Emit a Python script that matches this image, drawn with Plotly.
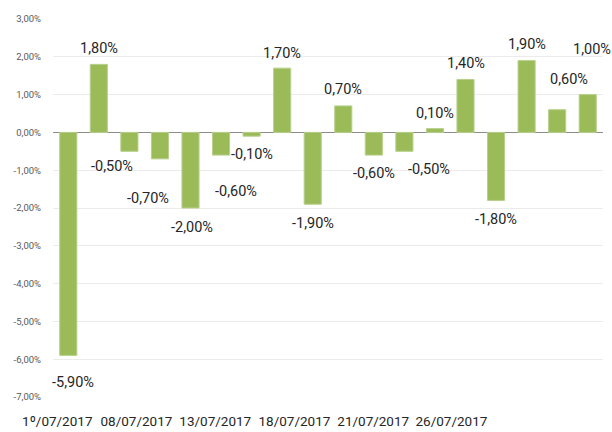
import plotly.graph_objects as go

values = [-5.9, 1.8, -0.5, -0.7, -2.0, -0.6, -0.1, 1.7, -1.9, 0.7,
          -0.6, -0.5, 0.1, 1.4, -1.8, 1.9, 0.6, 1.0]
x_tick_labels = ["1º/07/2017", "08/07/2017", "13/07/2017",
                 "18/07/2017", "21/07/2017", "26/07/2017"]
x_tick_pos = [-0.36, 2.23, 4.81, 7.40, 9.98, 12.54]
y_ticks = [3, 2, 1, 0, -1, -2, -3, -4, -5, -6, -7]

# per-label pixel offsets (style only)
label_dx = [5, 0, -17, -12, 1, 15, 0, 0, 0, 0, 0, 25, 0, 0, 0, 0, 12, 4]
label_dy = [-27, 16, -15, -40, -19, -36, -18, 15, -19, 16, -18, -18, 15, 16, -19, 16, 30, 45]

xs = list(range(len(values)))

fig = go.Figure()
fig.add_trace(go.Bar(
    x=xs, y=values,
    marker=dict(color="#9BBB59", line=dict(color="#B7D08A", width=1)),
    width=0.56,
    hoverinfo="skip",
))

for i, v in enumerate(values):
    fig.add_annotation(
        x=i, y=v, text=f"{v:.2f}".replace(".", ",") + "%",
        showarrow=False, xshift=label_dx[i], yshift=label_dy[i],
        xanchor="center", yanchor="middle",
        font=dict(family="Roboto", size=14.5, color="#262626"),
    )

fig.update_layout(
    width=612, height=432,
    margin=dict(l=53, r=9, t=19, b=35, autoexpand=False),
    paper_bgcolor="white", plot_bgcolor="white",
    showlegend=False,
    bargap=0.45,
)
fig.update_xaxes(
    range=[-0.5, len(values) - 0.5],
    tickmode="array", tickvals=x_tick_pos, ticktext=x_tick_labels,
    ticks="outside", ticklen=12, tickcolor="rgba(0,0,0,0)",
    showgrid=False, zeroline=False, showline=False, automargin=False,
    tickfont=dict(family="Roboto", size=13.5, color="#262626"),
)
fig.update_yaxes(
    range=[-7, 3],
    tickmode="array", tickvals=y_ticks,
    ticktext=[f"{t:.2f}".replace(".", ",") + "%" for t in y_ticks],
    ticks="outside", ticklen=9, tickcolor="rgba(0,0,0,0)",
    showgrid=True, gridcolor="#EBEBEB", gridwidth=1,
    zeroline=True, zerolinecolor="#8C8C8C", zerolinewidth=1,
    showline=False, automargin=False,
    tickfont=dict(family="Roboto", size=9.5, color="#595959"),
)

fig.write_html(
    "out.html",
    config={"displayModeBar": False, "staticPlot": True},
    post_script="document.body.style.margin='0';document.body.style.padding='0';",
)
